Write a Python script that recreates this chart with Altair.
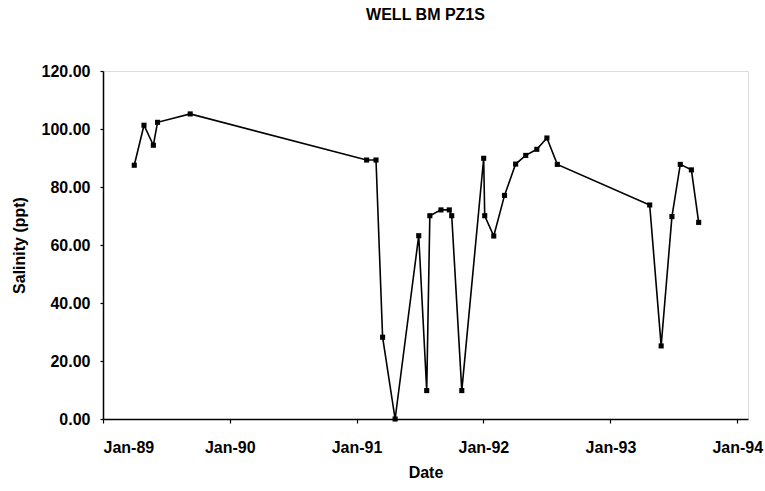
import altair as alt
import pandas as pd

# Sampling dates and measured salinity for well BM PZ1S
dates = [
    "1989-04-01", "1989-04-29", "1989-05-26", "1989-06-07", "1989-09-09",
    "1991-01-30", "1991-02-26", "1991-03-17", "1991-04-22", "1991-06-29",
    "1991-07-22", "1991-07-31", "1991-09-01", "1991-09-25", "1991-10-02",
    "1991-10-31", "1992-01-02", "1992-01-05", "1992-01-31", "1992-03-02",
    "1992-04-03", "1992-05-02", "1992-06-03", "1992-07-02", "1992-08-01",
    "1993-04-24", "1993-05-27", "1993-06-27", "1993-07-21", "1993-08-22",
    "1993-09-12",
]
salinity = [
    87.5, 101.3, 94.4, 102.3, 105.2,
    89.3, 89.3, 28.2, 0.0, 63.2,
    9.8, 70.1, 72.1, 72.1, 70.1,
    9.8, 89.9, 70.1, 63.1, 77.1,
    87.9, 90.9, 93.0, 96.9, 87.8,
    73.8, 25.2, 69.8, 87.8, 85.9,
    67.8,
]
year_ticks = ["1989-01-01", "1990-01-01", "1991-01-01", "1992-01-01",
              "1993-01-01", "1994-01-01"]

df = pd.DataFrame({"date": pd.to_datetime(dates), "salinity": salinity})

FONT = "Liberation Sans"
FS = 16

x = alt.X(
    "date:T",
    title="Date",
    scale=alt.Scale(domain=["1989-01-01", "1994-02-01"]),
    axis=alt.Axis(
        values=year_ticks,
        format="%b-%y",
        grid=False,
        labelFont=FONT, labelFontSize=FS, labelFontWeight="bold",
        labelColor="black", labelPadding=16,
        titleFont=FONT, titleFontSize=FS, titleFontWeight="bold",
        titleColor="black", titlePadding=9,
        domainColor="black", domainWidth=1.5,
        tickColor="black", tickSize=4, tickWidth=1.2,
    ),
)
y = alt.Y(
    "salinity:Q",
    title="Salinity (ppt)",
    scale=alt.Scale(domain=[0, 120], nice=False),
    axis=alt.Axis(
        values=[0, 20, 40, 60, 80, 100, 120],
        format=".2f",
        grid=False,
        labelFont=FONT, labelFontSize=FS, labelFontWeight="bold",
        labelColor="black", labelPadding=10,
        titleFont=FONT, titleFontSize=FS, titleFontWeight="bold",
        titleColor="black", titlePadding=14,
        domainColor="black", domainWidth=1.5,
        tickColor="black", tickSize=3, tickWidth=1.2,
    ),
)

chart = (
    alt.Chart(df)
    .mark_line(
        color="black",
        strokeWidth=1.6,
        point=alt.OverlayMarkDef(shape="square", size=26, filled=True,
                                 color="black", opacity=1),
    )
    .encode(x=x, y=y)
    .properties(
        width=645,
        height=348,
        title=alt.TitleParams(
            "WELL BM PZ1S", font=FONT, fontSize=FS, fontWeight="bold",
            color="black", anchor="middle", offset=40,
        ),
        autosize=alt.AutoSizeParams(type="none"),
        padding={"left": 103, "top": 71, "right": 17, "bottom": 72},
    )
    .configure_view(stroke=None)
    .configure(background="white")
)

chart.save("out.html", embed_options={"renderer": "svg", "actions": False})
